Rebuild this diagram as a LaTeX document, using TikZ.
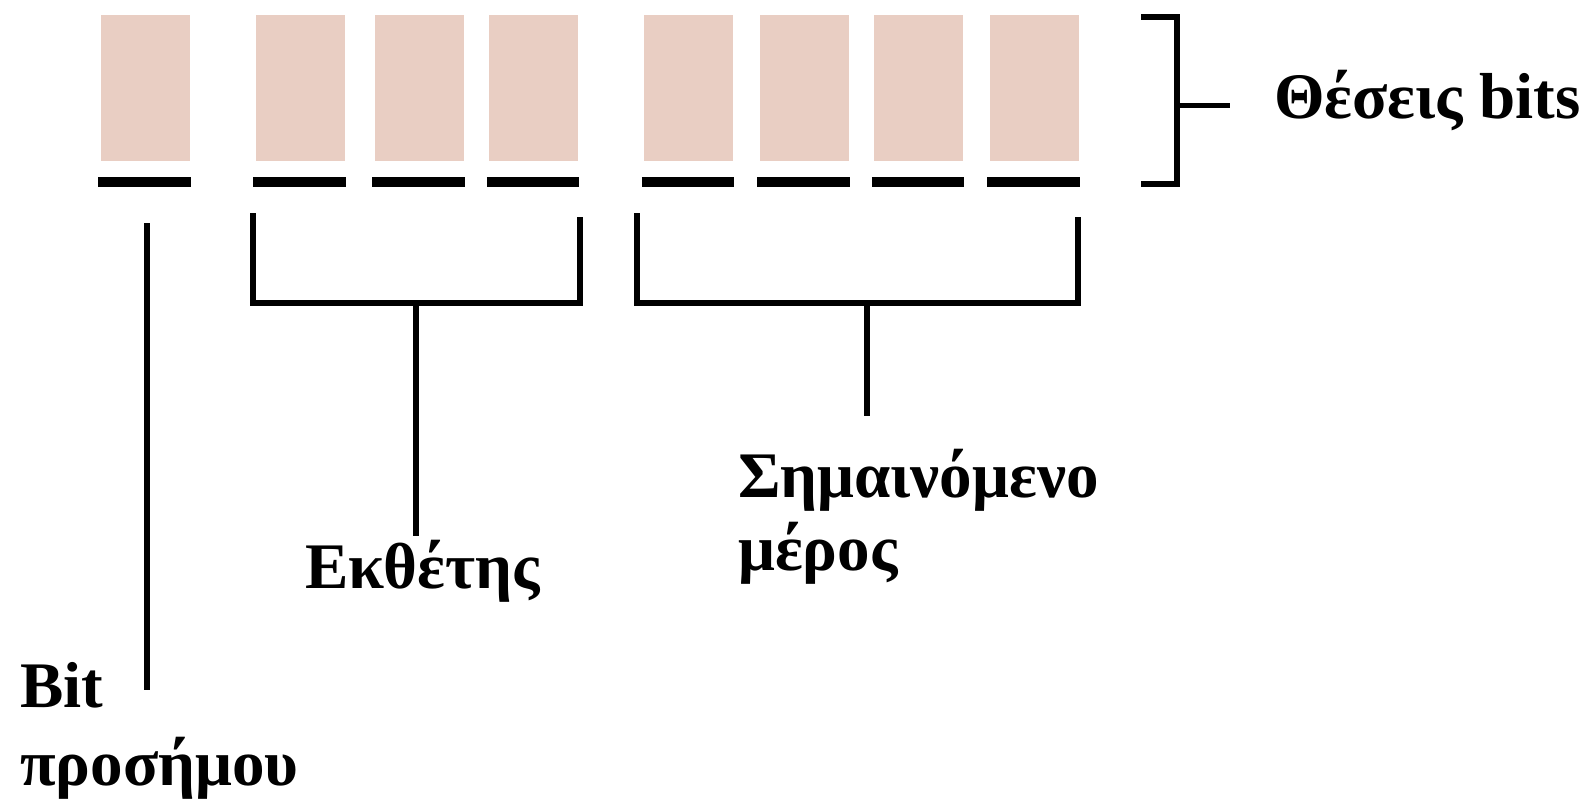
\documentclass[tikz,border=0pt]{standalone}
\usepackage{fontspec}
\setmainfont{Liberation Serif}
\definecolor{bitfill}{RGB}{233,206,195}
\begin{document}
\begin{tikzpicture}[x=1pt,y=-1pt,
  bitbox/.style={fill=bitfill,draw=none,minimum width=89pt,minimum height=146pt,inner sep=0pt,anchor=north},
  uline/.style={line width=10pt},
  brk/.style={line width=6pt,line join=miter,line cap=butt},
  lbl/.style={font=\bfseries\fontsize{65}{76}\selectfont,inner sep=0pt,anchor=base west,align=left}]
\useasboundingbox (0,0) rectangle (1594,808);
% bit boxes
\node[bitbox] (b1) at (145,15) {};
\node[bitbox] (b2) at (300,15) {};
\node[bitbox] (b3) at (419,15) {};
\node[bitbox] (b4) at (533.5,15) {};
\node[bitbox] (b5) at (688.5,15) {};
\node[bitbox] (b6) at (804,15) {};
\node[bitbox] (b7) at (918.5,15) {};
\node[bitbox] (b8) at (1034,15) {};
% underlines
\foreach \i in {1,...,8}{
  \draw[uline] ([shift={(-2,21)}]b\i.south west) -- ([shift={(1,21)}]b\i.south east);
}
% sign bit stem
\coordinate (s1) at (147,223);
\coordinate (s2) at (147,690);
\draw[line width=5.5pt] (s1) -- (s2);
% exponent bracket
\coordinate (e1) at (253,213);
\coordinate (e2) at (253,303);
\coordinate (e3) at (580,303);
\coordinate (e4) at (580,217);
\coordinate (e5) at (416,303);
\coordinate (e6) at (416,536);
\draw[brk] (e1) -- (e2) -- (e3) -- (e4);
\draw[brk] (e5) -- (e6);
% significand bracket
\coordinate (m1) at (637,213);
\coordinate (m2) at (637,303);
\coordinate (m3) at (1078,303);
\coordinate (m4) at (1078,217);
\coordinate (m5) at (867,303);
\coordinate (m6) at (867,416);
\draw[brk] (m1) -- (m2) -- (m3) -- (m4);
\draw[brk] (m5) -- (m6);
% bit positions bracket
\coordinate (p1) at (1141,17);
\coordinate (p2) at (1177,17);
\coordinate (p3) at (1177,184);
\coordinate (p4) at (1141,184);
\coordinate (p5) at (1177,105);
\coordinate (p6) at (1230,105);
\draw[brk] (p1) -- (p2) -- (p3) -- (p4);
\draw[line width=5pt] (p5) -- (p6);
% labels (base anchor = baseline of the last line)
\node[lbl] (tpos) at (1274,118) {Θέσεις bits};
\node[lbl,font=\bfseries\fontsize{65}{78}\selectfont] (tsign) at (20,785) {Bit\\προσήμου};
\node[lbl] (texp) at (305,588) {Εκθέτης};
\node[lbl,font=\bfseries\fontsize{65}{73}\selectfont] (tsig) at (738,570) {Σημαινόμενο\\μέρος};
\end{tikzpicture}
\end{document}
